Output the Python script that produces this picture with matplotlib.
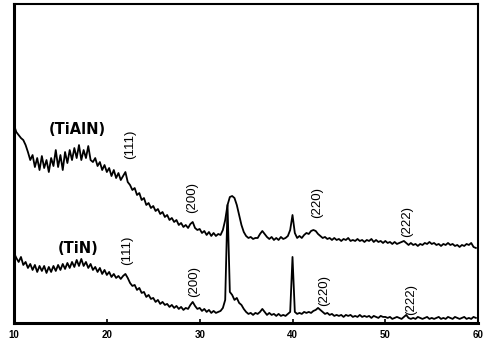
import numpy as np
import matplotlib
matplotlib.use("Agg")
import matplotlib.pyplot as plt

# 2-theta grid (deg), 0.25 deg steps
two_theta = np.arange(10, 60, 0.25)

# intensities (arbitrary units)
tialn = [
    198, 191, 188, 185, 183, 178, 171, 163,
    168, 156, 165, 153, 167, 155, 163, 151,
    165, 157, 173, 156, 168, 153, 171, 160,
    173, 163, 175, 165, 178, 163, 173, 165,
    177, 163, 161, 165, 157, 161, 153, 158,
    151, 155, 147, 153, 145, 150, 143, 147,
    151, 141, 138, 133, 135, 128, 130, 123,
    125, 118, 120, 115, 117, 112, 114, 109,
    111, 106, 108, 103, 105, 101, 103, 98,
    100, 96, 98, 95, 99, 101, 95, 93,
    94, 90, 92, 88, 91, 87, 90, 87,
    89, 88, 93, 103, 118, 126, 127, 125,
    118, 108, 98, 91, 87, 85, 86, 84,
    85, 85, 89, 92, 89, 86, 84, 86,
    83, 85, 83, 86, 84, 85, 87, 93,
    108, 90, 85, 87, 85, 88, 90, 89,
    92, 93, 92, 89, 87, 85, 86, 84,
    85, 83, 85, 83, 84, 82, 84, 83,
    85, 82, 83, 82, 84, 82, 83, 81,
    83, 82, 84, 81, 83, 81, 82, 80,
    82, 80, 81, 79, 81, 79, 80, 81,
    82, 80, 78, 80, 78, 79, 77, 79,
    78, 80, 79, 81, 79, 80, 78, 79,
    77, 79, 78, 80, 78, 79, 77, 78,
    76, 78, 77, 79, 78, 80, 76, 75,
]

tin = [
    70, 65, 61, 66, 58, 61, 55, 59,
    53, 58, 51, 57, 52, 57, 50, 56,
    51, 57, 52, 58, 53, 59, 54, 60,
    55, 61, 56, 63, 57, 64, 57, 61,
    55, 59, 53, 56, 51, 55, 49, 53,
    48, 51, 46, 49, 45, 47, 44, 47,
    49, 45, 40, 37, 38, 33, 35, 30,
    31, 26, 28, 24, 25, 21, 23, 19,
    21, 18, 19, 16, 18, 15, 17, 14,
    16, 13, 15, 14, 18, 21, 17, 14,
    15, 12, 14, 11, 13, 10, 12, 10,
    11, 12, 15, 23, 118, 31, 28, 23,
    25, 20, 18, 14, 11, 9, 10, 8,
    10, 9, 11, 14, 11, 8, 10, 8,
    9, 7, 9, 7, 8, 7, 9, 11,
    66, 11, 9, 10, 9, 11, 10, 11,
    10, 12, 13, 15, 13, 11, 9, 10,
    8, 9, 7, 8, 7, 8, 6, 8,
    7, 8, 6, 7, 6, 8, 6, 7,
    6, 7, 5, 7, 6, 5, 7, 6,
    6, 5, 6, 4, 5, 6, 5, 4,
    6, 8, 5, 4, 5, 4, 6, 5,
    4, 5, 6, 4, 5, 4, 5, 6,
    4, 5, 4, 6, 5, 4, 6, 5,
    4, 5, 6, 4, 5, 4, 6, 5,
]

# reflection labels: (text, 2theta, y centre)
tialn_peaks = [("(111)", 22.5, 179), ("(200)", 29.2, 126), ("(220)", 42.6, 121), ("(222)", 52.3, 101)]
tin_peaks = [("(111)", 22.2, 73), ("(200)", 29.4, 41), ("(220)", 43.4, 32), ("(222)", 52.8, 23)]

xticks = [10, 20, 30, 40, 50, 60]

plt.rcParams['font.family'] = ['Liberation Sans', 'DejaVu Sans']

fig = plt.figure(figsize=(4.83, 3.45), dpi=100)
ax = fig.add_axes([0.029, 0.064, 0.961, 0.924])

ax.plot(two_theta, tialn, color='black', lw=1.3)
ax.plot(two_theta, tin, color='black', lw=1.3)

ax.text(16.8, 194, "(TiAlN)", fontsize=10.5, fontweight='bold', family='DejaVu Sans',
        ha='center', va='center')
ax.text(16.9, 74, "(TiN)", fontsize=10.5, fontweight='bold', family='DejaVu Sans',
        ha='center', va='center')

for label, x, y in tialn_peaks + tin_peaks:
    ax.text(x, y, label, rotation=90, fontsize=9.5, ha='center', va='center')

ax.set_xlim(10, 60)
ax.set_ylim(0, 319)
ax.set_xticks(xticks)
ax.set_xticklabels([str(t) for t in xticks], fontsize=7, fontweight='bold')
ax.set_yticks([])
ax.tick_params(axis='x', direction='in', length=3, width=1.2, pad=5)

for side in ['left', 'bottom']:
    ax.spines[side].set_linewidth(2.2)
for side in ['top', 'right']:
    ax.spines[side].set_linewidth(1.5)

fig.savefig("out.png", dpi=100)
